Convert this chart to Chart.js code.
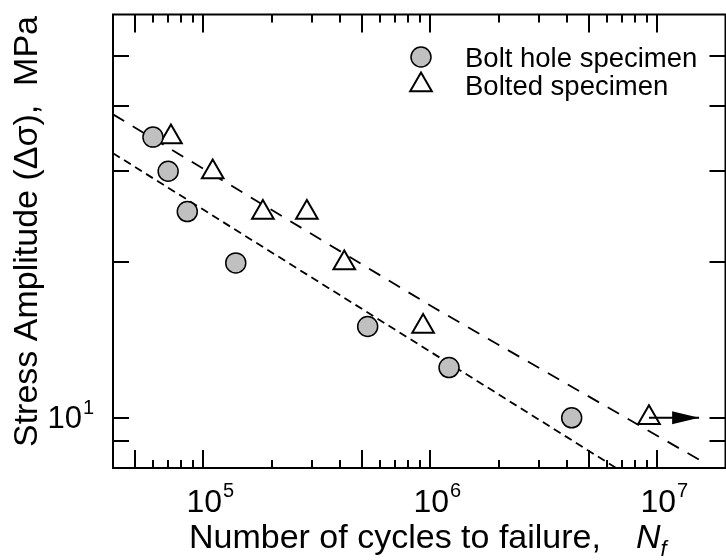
<!DOCTYPE html>
<html>
<head>
<meta charset="utf-8">
<script src="https://cdn.jsdelivr.net/npm/chart.js@4.4.1/dist/chart.umd.min.js"></script>
<style>
html,body{margin:0;padding:0;background:#fff;overflow:hidden;}
#wrap{width:740px;height:560px;}
</style>
</head>
<body>
<div id="wrap"><canvas id="snChart" width="740" height="560"></canvas></div>
<script>
// cycles to failure (N) and stress amplitude (MPa)
const boltHoleN=[60000,70000,85000,139000,530000,1210000,4200000];
const boltHoleS=[34.8,29.9,25.0,19.9,15.0,12.5,10.0];
const boltedN=[72000,110000,183000,286000,418000,930000,9200000];
const boltedS=[34.8,29.8,24.9,24.9,19.9,15.0,10.0];

// dashed trend lines
const upperFitN=[40000,1040000,15300000];
const upperFitS=[38.5,16.3,8.3];
const lowerFitN=[40000,6600000];
const lowerFitS=[32.4,8.0];

// run-out arrow on the last bolted specimen
const runoutN=[9200000,15300000];
const runoutS=[10,10];

const legendLabels=['Bolt hole specimen','Bolted specimen'];

// axis ticks
const xTicks=[5e4,6e4,7e4,8e4,9e4,1e5,2e5,3e5,4e5,5e5,6e5,7e5,8e5,9e5,
 1e6,2e6,3e6,4e6,5e6,6e6,7e6,8e6,9e6,1e7];
const xLongTicks=[5e4,1e5,5e5,1e6,5e6,1e7];
const xLabelVals=[1e5,1e6,1e7];
const xLabelExp=['5','6','7'];
const yTicks=[9,10,20,30,40,50];
const yLabelVals=[10];
const yLabelExp=['1'];

const FONT='"Liberation Sans", Arial, sans-serif';

const pts=(xs,ys)=>xs.map((v,i)=>({x:v,y:ys[i]}));

const frameAndText={
 id:'frameAndText',
 afterDraw(chart){
  const {ctx,chartArea:a,scales:{x,y}}=chart;
  ctx.save();
  ctx.strokeStyle='#000';
  ctx.lineWidth=2;
  ctx.beginPath();
  x.ticks.forEach(t=>{
   const px=Math.round(x.getPixelForValue(t.value));
   const len=xLongTicks.includes(t.value)?18:8;
   ctx.moveTo(px,a.bottom);ctx.lineTo(px,a.bottom-len);
   ctx.moveTo(px,a.top);ctx.lineTo(px,a.top+len);
  });
  y.ticks.forEach(t=>{
   const py=Math.round(y.getPixelForValue(t.value));
   ctx.moveTo(a.left,py);ctx.lineTo(a.left+16,py);
   ctx.moveTo(a.right,py);ctx.lineTo(a.right-16,py);
  });
  ctx.stroke();
  ctx.strokeRect(a.left,a.top,a.right-a.left,a.bottom-a.top);

  // arrow head
  const tx=x.getPixelForValue(runoutN[1]);
  const ty=y.getPixelForValue(runoutS[1]);
  ctx.fillStyle='#000';
  ctx.beginPath();
  ctx.moveTo(tx,ty);
  ctx.lineTo(tx-27,ty-6.5);
  ctx.lineTo(tx-27,ty+6.5);
  ctx.closePath();
  ctx.fill();

  // tick labels
  ctx.fillStyle='#000';
  ctx.textBaseline='alphabetic';
  xLabelVals.forEach((v,i)=>{
   const px=x.getPixelForValue(v);
   ctx.font='32px '+FONT;
   const w=ctx.measureText('10').width;
   ctx.textAlign='left';
   ctx.fillText('10',px-w/2+1,512);
   ctx.font='20px '+FONT;
   ctx.fillText(xLabelExp[i],px+w/2+2,497);
  });
  yLabelVals.forEach((v,i)=>{
   const py=y.getPixelForValue(v);
   ctx.font='31px '+FONT;
   ctx.textAlign='right';
   ctx.fillText('10',82,py+10);
   ctx.font='20px '+FONT;
   ctx.textAlign='left';
   ctx.fillText(yLabelExp[i],83,py-4);
  });

  // x title
  ctx.textAlign='left';
  ctx.font='34px '+FONT;
  ctx.fillText('Number of cycles to failure,',189,548);
  ctx.font='italic 34px '+FONT;
  ctx.fillText('N',636,548);
  const nw=ctx.measureText('N').width;
  ctx.font='italic 22px '+FONT;
  ctx.fillText('f',636+nw,556);

  // y title
  ctx.save();
  ctx.translate(37,447);
  ctx.rotate(-Math.PI/2);
  ctx.font='34px '+FONT;
  ctx.fillText('Stress Amplitude (\u0394\u03c3),  MPa',0,0);
  ctx.restore();

  // legend
  const ds=chart.data.datasets;
  [0,1].forEach(i=>{
   const ly=57+i*28;
   ctx.fillStyle=ds[i].backgroundColor;
   ctx.strokeStyle='#000';
   ctx.lineWidth=ds[i].borderWidth;
   Chart.helpers.drawPoint(ctx,{pointStyle:ds[i].pointStyle,radius:ds[i].pointRadius,rotation:0,borderWidth:ds[i].borderWidth},421,ly);
   ctx.fillStyle='#000';
   ctx.font='27.5px '+FONT;
   ctx.fillText(legendLabels[i],465,ly+9.5);
  });
  ctx.restore();
 }
};

new Chart(document.getElementById('snChart'),{
 type:'scatter',
 data:{
  datasets:[
   {label:legendLabels[0],data:pts(boltHoleN,boltHoleS),pointStyle:'circle',pointRadius:10,
    backgroundColor:'#c0c0c0',borderColor:'#000',borderWidth:1.5,order:2},
   {label:legendLabels[1],data:pts(boltedN,boltedS),pointStyle:'triangle',pointRadius:12.5,
    backgroundColor:'#fff',borderColor:'#000',borderWidth:2,order:2},
   {label:'run-out',data:pts(runoutN,runoutS),showLine:true,pointRadius:0,borderColor:'#000',borderWidth:2,order:1},
   {label:'upper fit',data:pts(upperFitN,upperFitS),showLine:true,pointRadius:0,borderColor:'#000',
    borderWidth:1.8,borderDash:[13,10],order:5},
   {label:'lower fit',data:pts(lowerFitN,lowerFitS),showLine:true,pointRadius:0,borderColor:'#000',
    borderWidth:1.8,borderDash:[8,5],order:5}
  ]
 },
 options:{
  responsive:false,
  animation:false,
  devicePixelRatio:1,
  layout:{padding:{top:13,right:10,left:0,bottom:0}},
  plugins:{legend:{display:false},tooltip:{enabled:false}},
  scales:{
   x:{type:'logarithmic',min:4e4,max:2e7,bounds:'data',
    grid:{display:false},border:{display:false},ticks:{display:false},
    afterBuildTicks(s){s.ticks=xTicks.map(v=>({value:v}));},
    afterFit(s){s.height=92;}},
   y:{type:'logarithmic',min:8,max:60,bounds:'data',
    grid:{display:false},border:{display:false},ticks:{display:false},
    afterBuildTicks(s){s.ticks=yTicks.map(v=>({value:v}));},
    afterFit(s){s.width=113;}}
  }
 },
 plugins:[frameAndText]
});
</script>
</body>
</html>
